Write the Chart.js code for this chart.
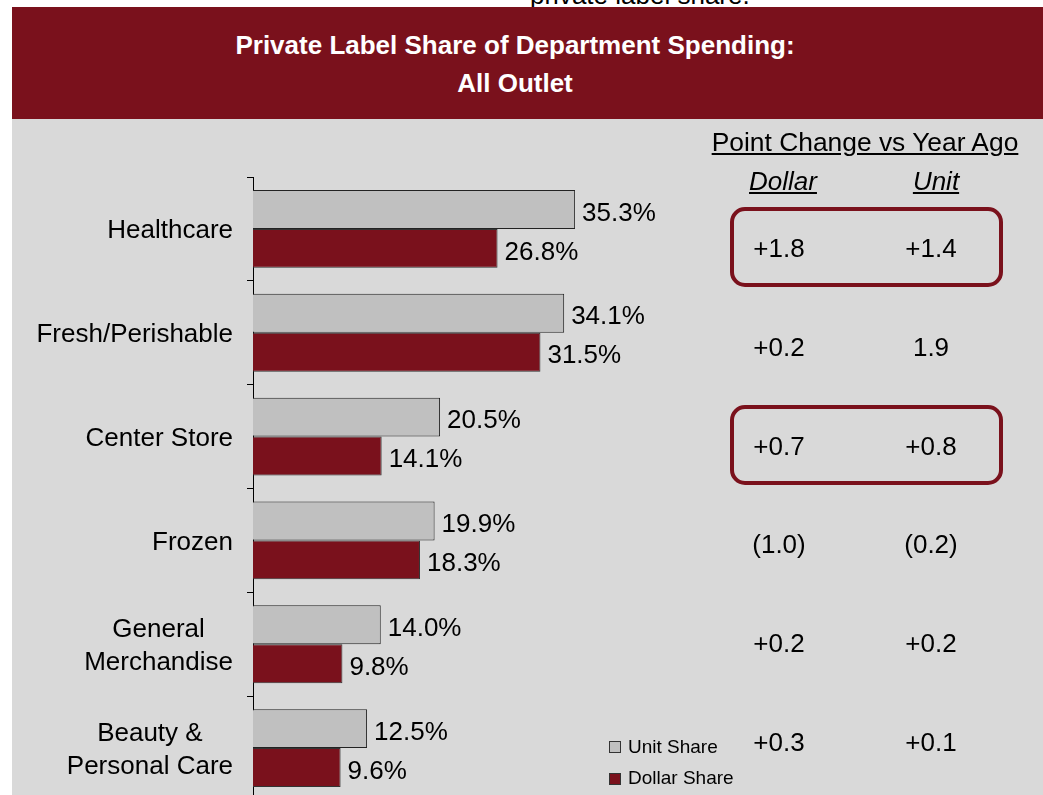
<!DOCTYPE html>
<html>
<head>
<meta charset="utf-8">
<script src="https://cdn.jsdelivr.net/npm/chart.js@4/dist/chart.umd.min.js"></script>
<style>
  html, body { margin: 0; padding: 0; background: #fff; overflow: hidden; }
  body { width: 1043px; height: 795px; position: relative; font-family: 'Liberation Sans', Arial, sans-serif; color: #000; }
  .abs { position: absolute; white-space: nowrap; }
  #topnote { left: 530px; top: -18px; font-size: 26px; line-height: 26px; }
  #banner { left: 12px; top: 7px; width: 1031px; height: 112px; background: #7a111c; }
  #panel { left: 12px; top: 119px; width: 1031px; height: 676px; background: #d9d9d9; }
  .title { left: 0; width: 1030px; text-align: center; color: #fff; font-weight: bold; font-size: 26px; line-height: 30px; }
  .box { border: 4px solid #7a111c; border-radius: 15px; box-sizing: border-box; }
  .cell { font-size: 26px; line-height: 30px; text-align: center; width: 120px; }
  .lg { font-size: 19px; line-height: 22px; }
  .sw { width: 12px; height: 12px; box-sizing: border-box; border: 1px solid #333; }
  canvas { position: absolute; left: 0; top: 0; }
</style>
</head>
<body>
<div class="abs" id="topnote">private label share.</div>
<div class="abs" id="banner"></div>
<div class="abs" id="panel"></div>
<div class="abs title" style="top:30px">Private Label Share of Department Spending:</div>
<div class="abs title" style="top:68px">All Outlet</div>
<canvas id="chart" width="1043" height="810"></canvas>
<div id="table"></div>

<script>
const categories = ['Healthcare', 'Fresh/Perishable', 'Center Store', 'Frozen', ['General', 'Merchandise'], ['Beauty &', 'Personal Care']];
const unitShare = [35.3, 34.1, 20.5, 19.9, 14.0, 12.5];
const dollarShare = [26.8, 31.5, 14.1, 18.3, 9.8, 9.6];
const dollarChange = ['+1.8', '+0.2', '+0.7', '(1.0)', '+0.2', '+0.3'];
const unitChange = ['+1.4', '1.9', '+0.8', '(0.2)', '+0.2', '+0.1'];
const highlighted = [0, 2];

const RED = '#7a111c';
const GREY = '#c0c0c0';
const FONT = "'Liberation Sans', Arial, sans-serif";

// right-hand table of point changes
const table = document.getElementById('table');
const add = (cls, style, text) => {
  const d = document.createElement('div');
  d.className = 'abs ' + cls;
  d.setAttribute('style', style);
  if (text !== undefined) d.textContent = text;
  table.appendChild(d);
  return d;
};
add('cell', 'left:705px;width:320px;top:127px;text-decoration:underline;font-size:26.4px', 'Point Change vs Year Ago');
add('cell', 'left:723px;top:166px;font-style:italic;text-decoration:underline', 'Dollar');
add('cell', 'left:876px;top:166px;font-style:italic;text-decoration:underline', 'Unit');
const rowY = (i) => 248 + i * 98.8;
highlighted.forEach((i) => {
  add('box', `left:730px;top:${rowY(i) - 41}px;width:273px;height:80px`);
});
dollarChange.forEach((v, i) => add('cell', `left:719px;top:${rowY(i) - 15}px`, v));
unitChange.forEach((v, i) => add('cell', `left:871px;top:${rowY(i) - 15}px`, v));

// legend
add('sw', `left:609px;top:741px;background:${GREY}`);
add('lg', 'left:628px;top:736px', 'Unit Share');
add('sw', `left:609px;top:773px;background:${RED}`);
add('lg', 'left:628px;top:767px', 'Dollar Share');

const valueLabels = {
  id: 'valueLabels',
  afterDatasetsDraw(chart) {
    const { ctx } = chart;
    ctx.save();
    ctx.font = `26px ${FONT}`;
    ctx.fillStyle = '#000';
    ctx.textAlign = 'left';
    ctx.textBaseline = 'middle';
    chart.data.datasets.forEach((ds, di) => {
      chart.getDatasetMeta(di).data.forEach((el, i) => {
        ctx.fillText(ds.data[i].toFixed(1) + '%', el.x + 7, el.y + 4);
      });
    });
    ctx.restore();
  },
};

// category labels: block right-aligned to the axis, lines centred within the block
const categoryLabels = {
  id: 'categoryLabels',
  afterDraw(chart) {
    const { ctx } = chart;
    const scale = chart.scales.y;
    const right = scale.right - 20;
    ctx.save();
    ctx.font = `26px ${FONT}`;
    ctx.fillStyle = '#000';
    ctx.textAlign = 'center';
    ctx.textBaseline = 'middle';
    chart.data.labels.forEach((label, i) => {
      const lines = Array.isArray(label) ? label : [label];
      const w = Math.max(...lines.map((l) => ctx.measureText(l).width));
      const cx = right - w / 2;
      const y = scale.getPixelForValue(i);
      lines.forEach((line, j) => {
        ctx.fillText(line, cx, y + 2 + (j - (lines.length - 1) / 2) * 33);
      });
    });
    ctx.restore();
  },
};

new Chart(document.getElementById('chart'), {
  type: 'bar',
  data: {
    labels: categories,
    datasets: [
      {
        label: 'Unit Share',
        data: unitShare,
        backgroundColor: GREY,
        borderColor: '#222',
        borderWidth: 1,
        barPercentage: 1,
        categoryPercentage: 0.75,
      },
      {
        label: 'Dollar Share',
        data: dollarShare,
        backgroundColor: RED,
        borderColor: '#333',
        borderWidth: 1,
        barPercentage: 1,
        categoryPercentage: 0.75,
      },
    ],
  },
  options: {
    indexAxis: 'y',
    responsive: false,
    animation: false,
    devicePixelRatio: 1,
    layout: { padding: { top: 177, bottom: 10, left: 0, right: 425 } },
    scales: {
      x: { display: false, min: 0, max: 40 },
      y: {
        grid: { drawOnChartArea: false, drawTicks: true, tickLength: 6, color: '#000', offset: true },
        border: { color: '#000', width: 1 },
        ticks: { display: false },
        afterFit: (scale) => {
          scale.width = 253;
          scale.paddingTop = 0;
          scale.paddingBottom = 0;
        },
      },
    },
    plugins: {
      legend: { display: false },
      tooltip: { enabled: false },
    },
  },
  plugins: [valueLabels, categoryLabels],
});
</script>
</body>
</html>
